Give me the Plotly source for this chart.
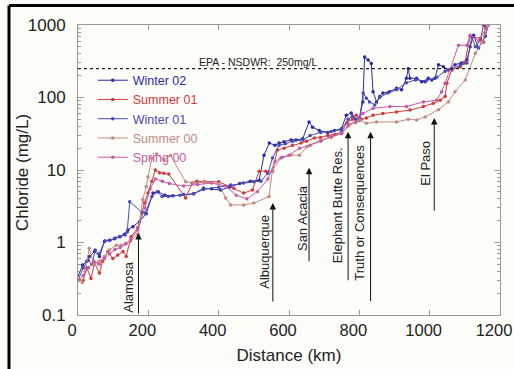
import plotly.graph_objects as go
import math

# ---------------- data (distance km, chloride mg/L) ----------------
w02_d = [0, 13, 25, 32, 47, 61, 75, 89, 104, 118, 132, 142, 156, 175, 194, 213, 228, 247, 270, 300,
         329, 357, 380, 406, 430, 460, 490, 515, 529, 544, 560, 572, 586, 606, 620, 639, 657, 667, 686, 710,
         729, 749, 763, 777, 790, 800, 810, 815, 825, 834, 839, 849, 858, 867, 886, 906, 920, 934, 939, 944,
         963, 977, 987, 996, 1006, 1015, 1025, 1039, 1053, 1072, 1090, 1106, 1115, 1125, 1139, 1158, 1167]
w02_v = [0.34, 0.49, 0.55, 0.64, 0.75, 0.64, 1.03, 1.07, 1.13, 1.2, 1.3, 1.49, 1.65, 1.94, 2.5, 4.8, 5.0, 4.5, 4.4, 4.6,
         4.7, 5.6, 5.5, 5.3, 5.8, 6.5, 7.0, 7.2, 16, 23.5, 22, 23.5, 24.6, 26, 26, 27, 46, 39, 35, 33,
         35, 37, 57, 61, 50, 52, 87, 363, 329, 295, 120, 87, 103, 115, 120, 134, 128, 184, 250, 184,
         184, 165, 165, 184, 174, 184, 284, 266, 240, 284, 300, 331, 500, 720, 480, 700, 1000]

s01_d = [0, 15, 25, 37, 47, 61, 70, 85, 99, 113, 128, 137, 151, 170, 189, 199, 210, 220, 232, 244,
         258, 306, 325, 338, 360, 400, 443, 471, 496, 515, 534, 553, 567, 586, 610, 634, 650, 672, 690, 710,
         730, 749, 765, 780, 791, 805, 820, 839, 867, 906, 944, 982, 1010, 1030, 1044, 1049, 1063, 1087, 1100,
         1115, 1144, 1153, 1158]
s01_v = [0.31, 0.3, 0.45, 0.32, 0.52, 0.38, 0.55, 0.75, 0.6, 0.67, 0.75, 0.64, 1.2, 1.6, 3.5, 4.8, 7.0, 10, 9.2, 9,
         8.8, 4.1, 6.6, 7, 6.9, 6.9, 5.6, 4.8, 5.3, 9.6, 9.6, 9.6, 18.9, 20, 22, 23.5, 25, 27.6, 28, 30,
         31, 33, 45, 50, 57, 50, 52, 57, 60, 63, 67, 75, 83, 92, 103, 157, 240, 266, 300,
         700, 650, 580, 950]

w01_d = [0, 15, 29, 40, 49, 60, 77, 91, 106, 120, 134, 140, 147, 182, 191, 210, 225, 239, 257, 290,
         329, 357, 400, 434, 470, 500, 520, 540, 553, 572, 590, 610, 640, 660, 690, 720, 749, 768, 780, 800,
         811, 820, 829, 844, 858, 880, 906, 934, 960, 990, 1020, 1044, 1063, 1087, 1106, 1120, 1130, 1144, 1153]
w01_v = [0.3, 0.45, 0.57, 0.5, 0.79, 0.7, 1.06, 1.07, 1.15, 1.2, 1.27, 1.4, 3.66, 2.6, 2.55, 4.3, 5.0, 4.3, 4.3, 4.5,
         4.7, 5.4, 5.8, 6.2, 6.6, 6.9, 7.0, 9, 14.6, 22, 23, 25, 26, 30, 33, 34, 36, 50, 55, 48,
         115, 98, 87, 79, 100, 115, 128, 160, 175, 170, 190, 230, 250, 280, 300, 690, 500, 620, 1000]

s00_d = [0, 12, 20, 32, 45, 60, 75, 89, 109, 123, 137, 150, 170, 184, 194, 199, 210, 224, 244, 263,
         306, 329, 360, 400, 420, 434, 471, 500, 543, 553, 577, 606, 630, 651, 691, 720, 749, 768, 790, 801,
         820, 849, 906, 939, 963, 987, 1025, 1053, 1072, 1101, 1130, 1149, 1167]
s00_v = [0.33, 0.28, 0.4, 0.83, 0.5, 0.55, 0.64, 0.79, 0.92, 0.92, 0.98, 1.05, 1.3, 3.9, 5.9, 8, 14.5, 16.6, 13.8, 15.8,
         6.9, 6.6, 6.8, 6.5, 4.1, 3.3, 3.3, 3.5, 4.3, 10, 14.6, 16.1, 16, 21, 26, 28, 32, 40, 45, 49,
         44, 46, 46, 50, 49, 54, 68, 87, 120, 174, 407, 580, 1000]

sp00_d = [0, 15, 30, 45, 60, 75, 90, 105, 120, 135, 150, 170, 190, 205, 220, 240, 260, 300, 340, 380,
          420, 450, 480, 510, 540, 560, 580, 600, 630, 660, 690, 720, 750, 770, 790, 810, 839, 887, 934, 982,
          1020, 1034, 1044, 1082, 1106, 1115, 1140, 1160]
sp00_v = [0.3, 0.35, 0.45, 0.55, 0.5, 0.6, 0.7, 0.8, 0.85, 0.95, 1.1, 1.5, 3.0, 5.5, 7.5, 7, 6.5, 6.0, 6.3, 6.6,
          6.0, 4.5, 4.0, 5.0, 7.5, 13, 15, 16, 20, 22, 25, 29, 32, 42, 47, 60, 71, 75, 75, 87,
          92, 120, 157, 525, 525, 720, 600, 900]

series_names = ["Winter 02", "Summer 01", "Winter 01", "Summer 00", "Spring 00"]
series_colors = ["#2b2ba6", "#d03a3a", "#4a4ab8", "#c48a80", "#c45aa8"]
series_d = [w02_d, s01_d, w01_d, s00_d, sp00_d]
series_v = [w02_v, s01_v, w01_v, s00_v, sp00_v]

EPA_LIMIT = 250

# landmarks: name, distance, arrow-tip value, arrow length px, label position (distance, value)
lm_names = ["Alamosa", "Albuquerque", "San Acacia", "Elephant Butte Res.", "Truth or Consequences", "El Paso"]
lm_dist = [172, 554, 657, 768, 832, 1013]
lm_tip = [1.35, 3.5, 10.7, 33.7, 33.7, 52]
lm_len = [82, 100, 95, 150, 171, 94]
lm_lab_d = [143, 531, 640, 740, 800, 989]
lm_lab_v = [0.24, 0.74, 2.18, 3.3, 2.6, 12.5]

FONT = "Arial, Liberation Sans, sans-serif"

fig = go.Figure()
for n, c, d, v in zip(series_names, series_colors, series_d, series_v):
    fig.add_trace(go.Scatter(
        x=d, y=v, mode="lines+markers", name=f'<span style="color:{c}">{n}</span>',
        line=dict(color=c, width=1), marker=dict(color=c, size=3.5)))

fig.add_hline(y=EPA_LIMIT, line=dict(color="#222", width=1.2, dash="dot"))
fig.add_annotation(x=512, y=math.log10(EPA_LIMIT) + 0.09, text="EPA - NSDWR:  250mg/L",
                   showarrow=False, font=dict(family=FONT, size=10.5, color="#222"))

for n, d, tip, ln, ld, lv in zip(lm_names, lm_dist, lm_tip, lm_len, lm_lab_d, lm_lab_v):
    fig.add_annotation(x=d, y=math.log10(tip), ax=0, ay=ln, text="", showarrow=True,
                       arrowhead=2, arrowsize=1.3, arrowwidth=1, arrowcolor="#111")
    fig.add_annotation(x=ld, y=math.log10(lv), text=n, textangle=-90, showarrow=False,
                       font=dict(family=FONT, size=13, color="#222"))

# y-axis title placed as text
fig.add_annotation(xref="paper", yref="paper", x=(22 - 78) / 422, y=(315 - 172) / 290,
                   xanchor="center", yanchor="middle",
                   text="Chloride (mg/L)", textangle=-90, showarrow=False,
                   font=dict(family=FONT, size=17, color="#222"))

minor_vals = [m * 10 ** e for e in range(-1, 3) for m in range(2, 10)]

fig.update_layout(
    width=514, height=369,
    margin=dict(l=78, r=14, t=25, b=54),
    paper_bgcolor="#fdfdf9", plot_bgcolor="#fdfdf9",
    font=dict(family=FONT, color="#222"),
    showlegend=True,
    legend=dict(x=0.035, y=0.86, xanchor="left", yanchor="top", bgcolor="rgba(0,0,0,0)",
                font=dict(family=FONT, size=12.5), tracegroupgap=0),
    xaxis=dict(range=[0, 1200], dtick=200, ticks="inside", ticklen=5, tickcolor="#999",
               showline=True, linecolor="#999", linewidth=1, mirror="ticks", automargin=False,
               ticklabeloverflow="allow", ticklabelshift=-6,
               showgrid=False, zeroline=False, tickfont=dict(size=16.5, family=FONT, color="#222"),
               title=dict(text="Distance (km)", font=dict(size=17, family=FONT), standoff=11)),
    yaxis=dict(type="log", range=[-1, 3], tickvals=[0.1, 1, 10, 100, 1000],
               ticktext=["0.1", "1", "10", "100", "1000"], ticks="inside", ticklen=6, tickcolor="#999",
               showline=True, linecolor="#999", linewidth=1, mirror="ticks", automargin=False,
               ticklabelstandoff=8, ticklabeloverflow="allow",
               showgrid=False, zeroline=False, tickfont=dict(size=17, family=FONT, color="#222"),
               minor=dict(tickvals=minor_vals, ticks="inside", ticklen=3, tickcolor="#999", showgrid=False)),
)

# outer black frame (top and left edges of the cropped figure)
fig.add_shape(type="line", xref="paper", yref="paper", x0=(9 - 78) / 422, x1=1.05,
              y0=(315 - 5.5) / 290, y1=(315 - 5.5) / 290, line=dict(color="#000", width=3))
fig.add_shape(type="line", xref="paper", yref="paper", x0=(9 - 78) / 422, x1=(9 - 78) / 422,
              y0=(315 - 5.5) / 290, y1=-0.2, line=dict(color="#000", width=3))

fig.write_html("out.html", config={"displayModeBar": False},
               post_script="document.body.style.margin='0px';")
